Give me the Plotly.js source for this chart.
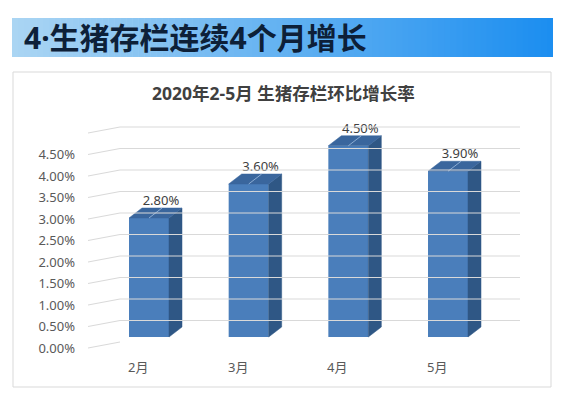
<!DOCTYPE html>
<html>
<head>
<meta charset="utf-8">
<script src="https://cdn.plot.ly/plotly-3.0.1.min.js"></script>
<style>
html,body{margin:0;padding:0;background:#ffffff;}
#chart{width:565px;height:397px;}
</style>
</head>
<body>
<div id="chart"></div>
<script>
// ---------- data ----------
const categories = ['2月', '3月', '4月', '5月'];
const growthRates = [2.80, 3.60, 4.50, 3.90];          // percent
const growthLabels = ['2.80%', '3.60%', '4.50%', '3.90%'];
const yTickValues = [0, 0.5, 1, 1.5, 2, 2.5, 3, 3.5, 4, 4.5];
const yTickLabels = ['0.00%', '0.50%', '1.00%', '1.50%', '2.00%', '2.50%', '3.00%', '3.50%', '4.00%', '4.50%'];
const wallLevels = [0, 0.5, 1, 1.5, 2, 2.5, 3, 3.5, 4, 4.5, 5];
const chartTitle = '2020年2-5月 生猪存栏环比增长率';
const headerText = '4·生猪存栏连续4个月增长';

// ---------- geometry (pixels) ----------
const W = 565, H = 397;
const catPx0 = 149, catStep = 99.67;            // front-face centre of first bar, spacing
const plotPxL = 80, plotPxR = 530;
const barBasePx = 337, barPxPerUnit = 42.5;
const wallBasePx = 342, wallPxPerUnit = 43;
const labelBasePx = 348;
const barWidthPx = 40, depthXPx = 13, depthYPx = 10;
const wallFrontPx = 88, wallBackPx = 120, wallEndPx = 520;

const xv = p => (p - catPx0) / catStep;
const px = p => p / W;
const py = p => 1 - p / H;

const hw = barWidthPx / catStep / 2;
const dx = depthXPx / catStep;
const dy = depthYPx / barPxPerUnit;
const frontShift = (labelBasePx - wallBasePx) / wallPxPerUnit;

const font = 'Noto Sans, Noto Sans CJK SC, sans-serif';

const traces = [];

// side-wall diagonals and back-wall gridlines
const wx = [], wy = [];
wallLevels.forEach(v => {
  wx.push(xv(wallFrontPx), xv(wallBackPx));
  wy.push(v - frontShift, v);
  if (v > 0) { wx.push(xv(wallEndPx)); wy.push(v); }
  wx.push(null); wy.push(null);
});
traces.push({type:'scatter', mode:'lines', x:wx, y:wy, yaxis:'y2',
  line:{color:'#d9d9d9', width:1}, hoverinfo:'skip', showlegend:false});

// front faces
const idx = categories.map((c, i) => i);
traces.push({type:'bar', x:idx, y:growthRates, width:2*hw,
  marker:{color:'#4a7ebb', line:{width:0}}, hoverinfo:'skip', showlegend:false});

// side and top faces
growthRates.forEach((v, i) => {
  traces.push({type:'scatter', mode:'lines', fill:'toself', fillcolor:'#2f5785',
    x:[i+hw, i+hw+dx, i+hw+dx, i+hw, i+hw], y:[0, dy, v+dy, v, 0],
    line:{color:'#2f5785', width:0.5}, hoverinfo:'skip', showlegend:false});
  traces.push({type:'scatter', mode:'lines', fill:'toself', fillcolor:'#3a669d',
    x:[i-hw, i+hw, i+hw+dx, i-hw+dx, i-hw], y:[v, v, v+dy, v+dy, v],
    line:{color:'#3a669d', width:0.5}, hoverinfo:'skip', showlegend:false});
  traces.push({type:'scatter', mode:'lines', x:[i, i+dx], y:[v, v+dy],
    line:{color:'rgba(160,190,225,0.8)', width:1}, hoverinfo:'skip', showlegend:false});
});

// data labels
traces.push({type:'scatter', mode:'text', x:idx.map(i => i + 0.12), y:growthRates.map(v => v + dy),
  text:growthLabels, textposition:'top center', cliponaxis:false,
  textfont:{family:font, size:13, color:'#404040'}, hoverinfo:'skip', showlegend:false});

// anchor trace for the tick-label axis
traces.push({type:'scatter', mode:'markers', x:[null], y:[null], yaxis:'y3',
  hoverinfo:'skip', showlegend:false});

// ---------- decorations ----------
const shapes = [];
const bx0 = 12, bx1 = 553, by0 = 18, by1 = 57, nSlices = 90;
const cL = [170, 213, 243], cR = [28, 142, 240];
for (let k = 0; k < nSlices; k++) {
  const t = k / (nSlices - 1);
  const c = cL.map((a, j) => Math.round(a + (cR[j] - a) * t));
  const x0 = bx0 + (bx1 - bx0) * k / nSlices;
  const x1 = bx0 + (bx1 - bx0) * (k + 1) / nSlices + 0.6;
  shapes.push({type:'rect', xref:'paper', yref:'paper', layer:'below',
    x0:px(x0), x1:px(Math.min(x1, bx1)), y0:py(by1), y1:py(by0),
    fillcolor:`rgb(${c[0]},${c[1]},${c[2]})`, line:{width:0}});
}
shapes.push({type:'rect', xref:'paper', yref:'paper', layer:'below',
  x0:px(13), x1:px(551), y0:py(387), y1:py(72),
  fillcolor:'#ffffff', line:{color:'#d9d9d9', width:1}});

const annotations = [
  {xref:'paper', yref:'paper', x:px(22), y:py(37.5), xanchor:'left', yanchor:'middle',
   text:headerText, showarrow:false,
   font:{family:font, size:30, weight:700, color:'#0d2038'}},
  {xref:'paper', yref:'paper', x:px(283), y:py(93.5), xanchor:'center', yanchor:'middle',
   text:chartTitle, showarrow:false,
   font:{family:font, size:17.5, weight:700, color:'#404040'}}
];
categories.forEach((c, i) => {
  annotations.push({xref:'x', yref:'paper', x:i - 0.11, y:py(367), xanchor:'center', yanchor:'middle',
    text:c, showarrow:false, font:{family:font, size:13, color:'#595959'}});
});

const layout = {
  width:W, height:H,
  margin:{l:0, r:0, t:0, b:0, pad:0},
  paper_bgcolor:'#ffffff', plot_bgcolor:'rgba(0,0,0,0)',
  showlegend:false,
  xaxis:{domain:[px(plotPxL), px(plotPxR)], range:[xv(plotPxL), xv(plotPxR)],
    visible:false, fixedrange:true},
  yaxis:{domain:[0,1], range:[-(H-barBasePx)/barPxPerUnit, barBasePx/barPxPerUnit],
    visible:false, fixedrange:true},
  yaxis2:{overlaying:'y', domain:[0,1], range:[-(H-wallBasePx)/wallPxPerUnit, wallBasePx/wallPxPerUnit],
    visible:false, fixedrange:true},
  yaxis3:{overlaying:'y', anchor:'free', position:px(75), side:'left',
    range:[-(H-labelBasePx)/wallPxPerUnit, labelBasePx/wallPxPerUnit],
    tickmode:'array', tickvals:yTickValues, ticktext:yTickLabels,
    showgrid:false, zeroline:false, showline:false, ticks:'',
    tickfont:{family:font, size:13, color:'#595959'}, fixedrange:true},
  shapes:shapes,
  annotations:annotations
};

Plotly.newPlot('chart', traces, layout, {displayModeBar:false, staticPlot:true});
</script>
</body>
</html>
